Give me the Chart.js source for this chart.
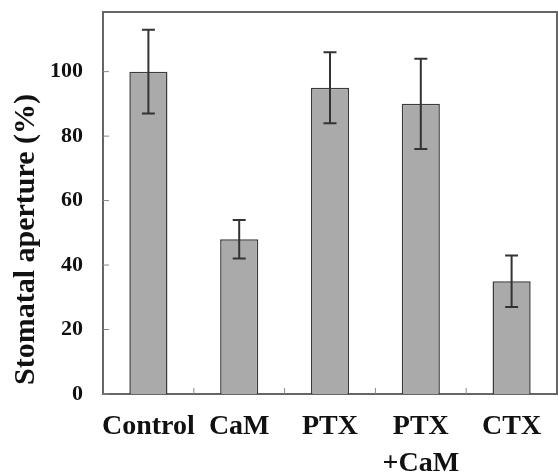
<!DOCTYPE html>
<html>
<head>
<meta charset="utf-8">
<script src="https://cdn.jsdelivr.net/npm/chart.js@4/dist/chart.umd.min.js"></script>
<style>
  html, body { margin: 0; padding: 0; background: #fff; }
  #wrap { width: 558px; height: 474px; }
</style>
</head>
<body>
<div id="wrap"><canvas id="apertureChart" width="558" height="474"></canvas></div>
<script>
// data
const categories = [['Control'], ['CaM'], ['PTX'], ['PTX', '+CaM'], ['CTX']];
const aperture = [100, 48, 95, 90, 35];
const apertureErr = [13, 6, 11, 14, 8];
const yTicks = [0, 20, 40, 60, 80, 100];
const yTitle = 'Stomatal aperture (%)';

const serif = "'Liberation Serif', 'Times New Roman', serif";

// error bars, frame, inward tick marks and the y title
const extrasPlugin = {
    id: 'extras',
    afterDatasetsDraw(chart) {
        const ctx = chart.ctx;
        const x = chart.scales.x;
        const y = chart.scales.y;
        const area = chart.chartArea;
        ctx.save();

        // frame (top + right)
        ctx.strokeStyle = '#666';
        ctx.lineWidth = 2;
        ctx.beginPath();
        ctx.moveTo(area.left, area.top);
        ctx.lineTo(area.right, area.top);
        ctx.lineTo(area.right, area.bottom);
        ctx.stroke();

        // y ticks pointing inward
        ctx.lineWidth = 1;
        ctx.strokeStyle = '#888';
        yTicks.forEach(v => {
            const py = y.getPixelForValue(v);
            ctx.beginPath();
            ctx.moveTo(area.left, py);
            ctx.lineTo(area.left + 6, py);
            ctx.stroke();
        });

        // x ticks between categories
        for (let i = 0; i < categories.length - 1; i++) {
            const px = (x.getPixelForValue(i) + x.getPixelForValue(i + 1)) / 2;
            ctx.beginPath();
            ctx.moveTo(px, area.bottom);
            ctx.lineTo(px, area.bottom - 6);
            ctx.stroke();
        }

        // error bars
        ctx.strokeStyle = '#333';
        ctx.lineWidth = 2;
        aperture.forEach((v, i) => {
            const px = x.getPixelForValue(i);
            const top = y.getPixelForValue(v + apertureErr[i]);
            const bot = y.getPixelForValue(v - apertureErr[i]);
            ctx.beginPath();
            ctx.moveTo(px, top);
            ctx.lineTo(px, bot);
            ctx.moveTo(px - 6.5, top);
            ctx.lineTo(px + 6.5, top);
            ctx.moveTo(px - 6.5, bot);
            ctx.lineTo(px + 6.5, bot);
            ctx.stroke();
        });

        // y axis title, bottom-anchored like the original
        ctx.translate(26, area.bottom - 9);
        ctx.rotate(-Math.PI / 2);
        ctx.fillStyle = '#111';
        ctx.font = 'bold 30px ' + serif;
        ctx.textAlign = 'left';
        ctx.textBaseline = 'middle';
        ctx.fillText(yTitle, 0, 0);
        ctx.restore();
    }
};

new Chart(document.getElementById('apertureChart'), {
    type: 'bar',
    data: {
        labels: categories,
        datasets: [{
            data: aperture,
            backgroundColor: '#aaaaaa',
            borderColor: '#3a3a3a',
            borderWidth: 1.5,
            barPercentage: 0.42,
            categoryPercentage: 1
        }]
    },
    options: {
        responsive: false,
        animation: false,
        layout: { padding: { top: 12, right: 1, left: 0, bottom: 0 } },
        plugins: {
            legend: { display: false },
            tooltip: { enabled: false }
        },
        scales: {
            x: {
                grid: { display: false, drawTicks: false },
                border: { display: true, color: '#666', width: 2 },
                ticks: {
                    color: '#111',
                    padding: 15,
                    maxRotation: 0,
                    autoSkip: false,
                    font: { family: serif, size: 28, weight: 'bold', lineHeight: 1.3 }
                },
                afterFit: s => {
                    s.height = 80;
                    s.paddingLeft = 0;
                    s.paddingRight = 0;
                }
            },
            y: {
                min: 0,
                max: 118.5,
                grid: { display: false, drawTicks: false },
                border: { display: true, color: '#666', width: 2 },
                afterBuildTicks: s => { s.ticks = yTicks.map(v => ({ value: v })); },
                ticks: {
                    color: '#111',
                    padding: 20,
                    font: { family: serif, size: 22, weight: 'bold' }
                },
                afterFit: s => {
                    s.width = 103;
                    s.paddingTop = 0;
                    s.paddingBottom = 0;
                }
            }
        }
    },
    plugins: [extrasPlugin]
});
</script>
</body>
</html>
